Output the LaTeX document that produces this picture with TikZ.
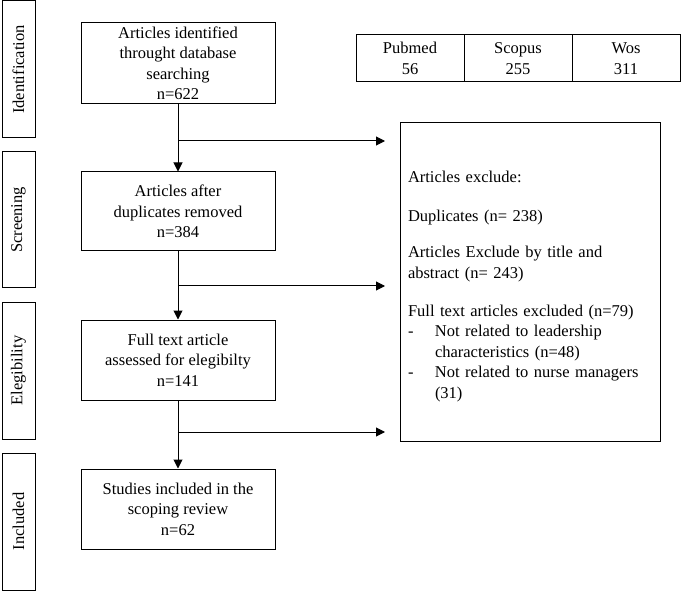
\documentclass[tikz,border=0pt]{standalone}
\usepackage{fontspec}
\setmainfont{Liberation Serif}
\usetikzlibrary{arrows.meta}
\begin{document}
\begin{tikzpicture}[x=1pt,y=-1pt,
  every node/.style={font=\fontsize{16.5}{20.5}\selectfont},
  box/.style={draw, line width=1pt, minimum width=194pt, align=center, inner sep=0pt},
  side/.style={draw, line width=1pt, rotate=90, minimum height=33pt, inner sep=0pt},
  db/.style={draw, line width=1pt, minimum width=108pt, minimum height=47pt, align=center, inner sep=0pt},
  flow/.style={line width=1pt, -{Triangle[length=9pt,width=9pt]}},
  frame/.style={draw, line width=1pt},
  listtext/.style={text width=244pt, align=left, inner sep=0pt}]
\useasboundingbox (0,0) rectangle (681,591);
% stage labels
\node[side, minimum width=137pt] (sid) at (18.5,69.5) {Identification};
\node[side, minimum width=136pt] (sscr) at (18.5,220) {Screening};
\node[side, minimum width=137pt] (sel) at (18.5,370.5) {Elegibility};
\node[side, minimum width=137pt] (sinc) at (18.5,521.5) {Included};
% main flow boxes
\node[box, minimum height=81pt] (b1) at (178,63.5) {Articles identified\\throught database\\searching\\n=622};
\node[box, minimum height=79pt] (b2) at (178,211.5) {Articles after\\duplicates removed\\n=384};
\node[box, minimum height=80pt] (b3) at (178,360) {Full text article\\assessed for elegibilty\\n=141};
\node[box, minimum height=80pt] (b4) at (178,509) {Studies included in the\\scoping review\\n=62};
% databases
\node[db] (pub) at (410,58.5) {Pubmed\\56};
\node[db] (sco) at (518,58.5) {Scopus\\255};
\node[db] (wos) at (626,58.5) {Wos\\311};
% exclusion box
\node[frame, minimum width=260pt, minimum height=318pt] (ex) at (530,282) {};
\node[listtext] (ext) at (530,288) {Articles exclude:\\[18.5pt]
Duplicates (n= 238)\\[15.5pt]
Articles Exclude by title and\\
abstract (n= 243)\\[17.5pt]
Full text articles excluded (n=79)\\
\makebox[27pt][l]{-}Not related to leadership\\
\makebox[27pt][l]{\strut}characteristics (n=48)\\
\makebox[27pt][l]{-}Not related to nurse managers\\
\makebox[27pt][l]{\strut}(31)};
% connectors
\draw[flow] (b1.south) -- (b2.north);
\draw[flow] (b2.south) -- (b3.north);
\draw[flow] (b3.south) -- (b4.north);
\coordinate (j1) at (178,141);
\coordinate (j2) at (178,286);
\coordinate (j3) at (178,432);
\coordinate (e1) at (385,141);
\coordinate (e2) at (385,286);
\coordinate (e3) at (385,432);
\draw[flow] (j1) -- (e1);
\draw[flow] (j2) -- (e2);
\draw[flow] (j3) -- (e3);
\end{tikzpicture}
\end{document}
